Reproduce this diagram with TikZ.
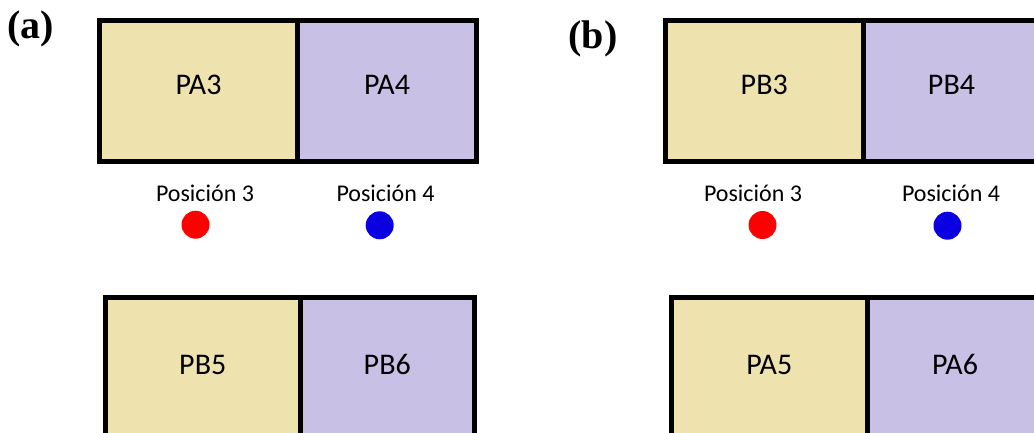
\documentclass[tikz,border=0pt]{standalone}
\usepackage{fontspec}
\setmainfont{Carlito}
\newfontfamily\titlefont{Liberation Serif}
\begin{document}
\begin{tikzpicture}[x=1pt,y=-1pt,
  cell/.style={draw=black, line width=5pt, rectangle, inner sep=0pt, outer sep=0pt,
    font=\fontsize{30}{30}\selectfont, text height=19pt, text depth=12pt},
  sandcell/.style={cell, fill=sand},
  lilaccell/.style={cell, fill=lilac},
  poslabel/.style={font=\fontsize{24}{24}\selectfont, inner sep=0pt},
  spot/.style={circle, inner sep=0pt, minimum size=28pt},
  panel/.style={font=\titlefont\bfseries\fontsize{40}{40}\selectfont, inner sep=0pt}
]
\definecolor{sand}{RGB}{238,227,175}
\definecolor{lilac}{RGB}{201,192,230}
\definecolor{redspot}{RGB}{255,0,0}
\definecolor{bluespot}{RGB}{10,0,225}
\useasboundingbox (0,0) rectangle (1034,433);
\clip (0,0) rectangle (1034,433);

% panel titles
\node[panel] (ta) at (31,29) {(a)};
\node[panel] (tb) at (593,39) {(b)};

% (a) upper pair
\node[sandcell, minimum width=198pt, minimum height=141.5pt] (pa3) at (198.5,91.25) {PA3};
\node[lilaccell, minimum width=179pt, minimum height=141.5pt] (pa4) at (387,91.25) {PA4};
% (a) lower pair
\node[sandcell, minimum width=194.5pt, minimum height=147pt] (pb5) at (202.75,371) {PB5};
\node[lilaccell, minimum width=174.5pt, minimum height=147pt] (pb6) at (387.25,371) {PB6};

% (b) upper pair
\node[sandcell, minimum width=197.5pt, minimum height=141.5pt] (pb3) at (764.25,91.25) {PB3};
\node[lilaccell, minimum width=177pt, minimum height=141.5pt] (pb4) at (951.5,91.25) {PB4};
% (b) lower pair
\node[sandcell, minimum width=195.5pt, minimum height=147pt] (pa5) at (769.25,371) {PA5};
\node[lilaccell, minimum width=176pt, minimum height=147pt] (pa6) at (955,371) {PA6};

% positions (a)
\node[poslabel] (la3) at (205,193) {Posición 3};
\node[spot, fill=redspot] (da3) at (195.5,224.7) {};
\node[poslabel] (la4) at (385.5,193) {Posición 4};
\node[spot, fill=bluespot] (da4) at (379.7,225.3) {};

% positions (b)
\node[poslabel] (lb3) at (753,193) {Posición 3};
\node[spot, fill=redspot] (db3) at (762.5,225) {};
\node[poslabel] (lb4) at (951,193) {Posición 4};
\node[spot, fill=bluespot] (db4) at (947.5,225.7) {};
\end{tikzpicture}
\end{document}
